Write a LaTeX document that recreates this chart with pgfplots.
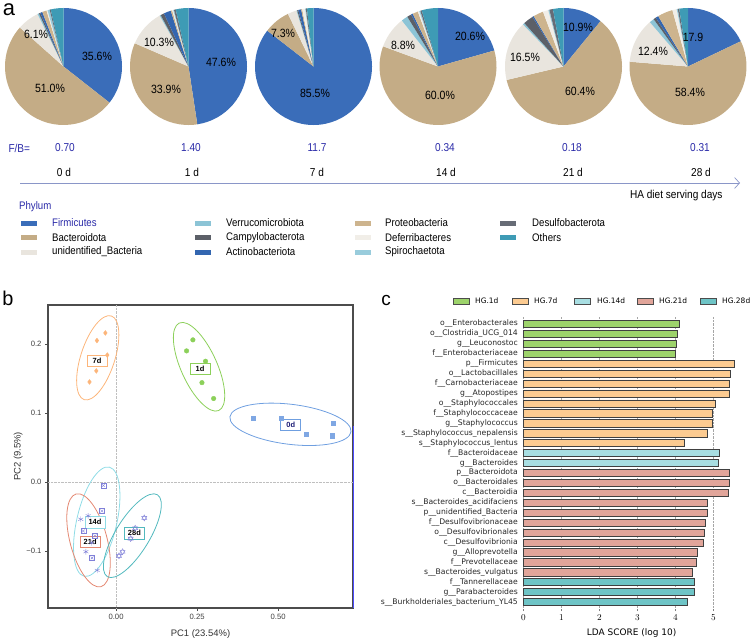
\documentclass[border=0pt]{standalone}
\usepackage{pgfplots}
\pgfplotsset{compat=1.18}
\usepackage{fontspec}
\setmainfont{Liberation Sans}
\newfontfamily\nar[FakeStretch=0.88]{Liberation Sans}
\newfontfamily\dejavu{DejaVu Sans}
\usetikzlibrary{arrows.meta}
\newcommand\fs[1]{\fontsize{#1}{#1}\selectfont}

% phylum colours
\definecolor{cFir}{HTML}{3A6DB9}
\definecolor{cBac}{HTML}{C4AC86}
\definecolor{cUnid}{HTML}{E9E5DE}
\definecolor{cVer}{HTML}{8CC4D6}
\definecolor{cCam}{HTML}{5C6068}
\definecolor{cAct}{HTML}{3366B0}
\definecolor{cPro}{HTML}{CDB48E}
\definecolor{cDef}{HTML}{F1EEE8}
\definecolor{cSpi}{HTML}{99CCDC}
\definecolor{cDes}{HTML}{676C76}
\definecolor{cOth}{HTML}{3E9BB5}
\definecolor{fbblue}{HTML}{2A2AA8}
\definecolor{arrowc}{HTML}{8A96C8}
% panel b colours
\definecolor{p0}{HTML}{7FA7E3}
\definecolor{e0}{HTML}{6F9FE0}
\definecolor{p1}{HTML}{8CD05A}
\definecolor{p7}{HTML}{FCB57A}
\definecolor{e14}{HTML}{8FDCE6}
\definecolor{e21}{HTML}{E48872}
\definecolor{e28}{HTML}{52B9BE}
\definecolor{pm}{HTML}{8080D8}
% panel c colours
\definecolor{g1}{HTML}{9DD36B}
\definecolor{g7}{HTML}{FCCB91}
\definecolor{g14}{HTML}{A8DEE2}
\definecolor{g21}{HTML}{E1A59A}
\definecolor{g28}{HTML}{6EC4C6}

\newcommand\drawpie[1]{%
  \gdef\angstart{90}%
  \foreach \pv/\pc in {#1}{%
    \pgfmathsetmacro\angend{\angstart-3.6*\pv}%
    \fill[fill=\pc] (axis cs:0,0) -- ++(\angstart:58.5bp) arc[start angle=\angstart,end angle=\angend,radius=58.5bp] -- cycle;%
    \global\let\angstart\angend
  }%
}
\newcommand\pieaxis[2]{%
  \begin{axis}[at={(#1bp,-66.5bp)},anchor=center,hide axis,scale only axis,
    width=117bp,height=117bp,xmin=-1,xmax=1,ymin=-1,ymax=1,clip=false]
    \addplot[draw=none,forget plot] coordinates {(0,0)};
    \pgfplotsextra{\drawpie{#2}}
  \end{axis}}

\begin{document}
\begin{tikzpicture}[x=1bp,y=-1bp]
\useasboundingbox (0,0) rectangle (752,641);

% ---------------- panel a ----------------
\node[font=\fs{22}] at (9,10) {a};
% order: Firmicutes, Bacteroidota, unidentified_Bacteria, Verrucomicrobiota, Campylobacterota,
% Actinobacteriota, Proteobacteria, Deferribacteres, Spirochaetota, Desulfobacterota, Others
\pieaxis{63.5}{35.6/cFir,51.0/cBac,6.1/cUnid,0.4/cVer,0.4/cCam,0.6/cAct,1.2/cPro,0.3/cDef,0.6/cSpi,0.3/cDes,3.5/cOth}
\pieaxis{188.5}{47.6/cFir,33.9/cBac,10.3/cUnid,0.3/cVer,1.0/cCam,2.0/cAct,0.4/cPro,0.3/cDef,0.2/cSpi,0.5/cDes,3.5/cOth}
\pieaxis{313.5}{85.5/cFir,7.3/cBac,2.5/cUnid,0.2/cVer,0.3/cCam,0.8/cAct,0.3/cPro,0.8/cDef,0.2/cSpi,0.3/cDes,1.8/cOth}
\pieaxis{438}{20.6/cFir,60.0/cBac,8.8/cUnid,1.8/cVer,1.2/cCam,0.5/cAct,1.5/cPro,0.4/cDef,0.3/cSpi,0.4/cDes,4.5/cOth}
\pieaxis{563.5}{10.9/cFir,60.4/cBac,16.5/cUnid,0.5/cVer,2.8/cCam,0.4/cAct,2.8/cPro,1.5/cDef,0.3/cSpi,1.0/cDes,2.9/cOth}
\pieaxis{688}{17.9/cFir,58.4/cBac,12.4/cUnid,1.3/cVer,0.7/cCam,0.8/cAct,4.2/cPro,1.2/cDef,0.3/cSpi,0.4/cDes,2.4/cOth}

\begin{scope}[every node/.style={font=\nar\fs{12}}]
\node at (97,56) {35.6\%};
\node at (50,88) {51.0\%};
\node at (36,34) {6.1\%};
\node at (221,62) {47.6\%};
\node at (166,89) {33.9\%};
\node at (159,42) {10.3\%};
\node at (315,93) {85.5\%};
\node at (283,33) {7.3\%};
\node at (470,36) {20.6\%};
\node at (440,95) {60.0\%};
\node at (403,45) {8.8\%};
\node at (578,27) {10.9\%};
\node at (580,91) {60.4\%};
\node at (525,57) {16.5\%};
\node at (693,37) {17.9};
\node at (690,92) {58.4\%};
\node at (653,51) {12.4\%};
\end{scope}

\begin{scope}[every node/.style={font=\nar\fs{11.5}}]
\node[fbblue,anchor=west] at (5,148) {F/B=};
\node[fbblue] at (65,148) {0.70};
\node[fbblue] at (191,148) {1.40};
\node[fbblue] at (317,148) {11.7};
\node[fbblue] at (445,148) {0.34};
\node[fbblue] at (572,148) {0.18};
\node[fbblue] at (700,148) {0.31};
\node at (64,172) {0 d};
\node at (192,172) {1 d};
\node at (317,172) {7 d};
\node at (446,172) {14 d};
\node at (573,172) {21 d};
\node at (701,172) {28 d};
\node[anchor=east] at (726,196) {HA diet serving days};
\end{scope}
\draw[arrowc,line width=0.7pt,-{Straight Barb[length=5bp,width=11bp]}] (20,183) -- (740,183);

% legend
\begin{scope}[every node/.style={font=\nar\fs{11},anchor=west,inner sep=0pt}]
\node[fbblue] at (19,207) {Phylum};
\fill[cFir] (21,220.5) rectangle (37,225.5); \node[fbblue] at (52,223) {Firmicutes};
\fill[cBac] (21,235) rectangle (37,240); \node at (52,237.5) {Bacteroidota};
\fill[cUnid] (21,249.5) rectangle (37,254.5); \node at (52,252) {unidentified\_Bacteria};
\fill[cVer] (195,220.5) rectangle (211,225.5); \node at (226,223) {Verrucomicrobiota};
\fill[cCam] (195,235) rectangle (211,240); \node at (226,237.5) {Campylobacterota};
\fill[cAct] (195,249.5) rectangle (211,254.5); \node at (226,252) {Actinobacteriota};
\fill[cPro] (355,220.5) rectangle (371,225.5); \node at (385,223) {Proteobacteria};
\fill[cDef] (355,235) rectangle (371,240); \node at (385,237.5) {Deferribacteres};
\fill[cSpi] (355,249.5) rectangle (371,254.5); \node at (385,252) {Spirochaetota};
\fill[cDes] (500,220.5) rectangle (516,225.5); \node at (532,223) {Desulfobacterota};
\fill[cOth] (500,235) rectangle (516,240); \node at (532,237.5) {Others};
\end{scope}

% ---------------- panel b ----------------
\node[font=\fs{20}] at (8,298) {b};
\begin{axis}[at={(48bp,-608bp)},anchor=south west,scale only axis,width=305bp,height=303bp,
  xmin=-0.21,xmax=0.731,ymin=-0.1826,ymax=0.2565,
  xtick={0,0.25,0.5},xticklabels={0.00,0.25,0.50},
  ytick={-0.1,0,0.1,0.2},yticklabels={−0.1,0.0,0.1,0.2},
  tick label style={font=\fs{7.7},color=black!75},
  tick style={color=black!70},
  tick align=outside,major tick length=3bp,
  xtick pos=left,ytick pos=left,
  axis line style={draw=black!70,line width=1.2pt},
  xlabel={PC1 (23.54\%)},ylabel={PC2 (9.5\%)},
  label style={font=\fs{9.5},color=black!80},
  xlabel style={yshift=-3bp},ylabel style={yshift=-3bp},
  clip=false]
  \draw[black!25,densely dotted] (axis cs:0,-0.1826) -- (axis cs:0,0.2565);
  \draw[black!25,densely dotted] (axis cs:-0.21,0) -- (axis cs:0.731,0);
  \draw[blue!70,line width=0.6pt] (rel axis cs:1,0) -- (rel axis cs:1,0.6);
  % 0d
  \addplot[only marks,mark=square*,mark size=2.1bp,color=p0] coordinates {(0.422,0.092) (0.510,0.093) (0.587,0.069) (0.669,0.085) (0.667,0.067)};
  % 1d
  \addplot[only marks,mark=*,mark size=2.3bp,color=p1] coordinates {(0.237,0.206) (0.2175,0.190) (0.276,0.175) (0.265,0.144) (0.301,0.121)};
  % 7d
  \addplot[only marks,mark=diamond*,mark size=2.4bp,color=p7] coordinates {(-0.033,0.216) (-0.059,0.205) (-0.027,0.184) (-0.061,0.161) (-0.082,0.145)};
  % 14d
  \addplot[only marks,mark=square,mark size=2.6bp,color=pm] coordinates {(-0.039,-0.005) (-0.044,-0.042) (-0.101,-0.071) (-0.065,-0.078) (-0.074,-0.110)};
  \addplot[only marks,mark=x,mark size=2.0bp,color=pm] coordinates {(-0.039,-0.005) (-0.044,-0.042) (-0.101,-0.071) (-0.065,-0.078) (-0.074,-0.110)};
  % 21d
  \addplot[only marks,mark=asterisk,mark size=2.8bp,color=pm] coordinates {(-0.109,-0.054) (-0.086,-0.049) (-0.093,-0.101) (-0.058,-0.128) (-0.075,-0.088)};
  % 28d
  \addplot[only marks,mark=triangle,mark size=3bp,color=pm] coordinates {(0.087,-0.052) (0.059,-0.067) (0.020,-0.101) (0.009,-0.107) (0.045,-0.082)};
  \addplot[only marks,mark=triangle,mark size=3bp,color=pm,mark options={rotate=180}] coordinates {(0.087,-0.052) (0.059,-0.067) (0.020,-0.101) (0.009,-0.107) (0.045,-0.082)};
  % ellipses
  \draw[e0,line width=0.8pt,rotate around={-7:(axis cs:0.538,0.0836)}] (axis cs:0.538,0.0836) ellipse[x radius=61bp,y radius=20bp];
  \draw[p1,line width=0.8pt,rotate around={-65.7:(axis cs:0.256,0.167)}] (axis cs:0.256,0.167) ellipse[x radius=48bp,y radius=18bp];
  \draw[p7,line width=0.8pt,rotate around={72:(axis cs:-0.0565,0.180)}] (axis cs:-0.0565,0.180) ellipse[x radius=44bp,y radius=17bp];
  \draw[e14,line width=0.8pt,rotate around={77:(axis cs:-0.0596,-0.0575)}] (axis cs:-0.0596,-0.0575) ellipse[x radius=56bp,y radius=20bp];
  \draw[e21,line width=0.8pt,rotate around={-75:(axis cs:-0.0849,-0.0845)}] (axis cs:-0.0849,-0.0845) ellipse[x radius=48bp,y radius=18.5bp];
  \draw[e28,line width=0.8pt,rotate around={58.5:(axis cs:0.0503,-0.0778)}] (axis cs:0.0503,-0.0778) ellipse[x radius=48bp,y radius=17bp];
  % labels
  \begin{scope}[every node/.style={fill=white,font=\bfseries\fs{7.5},minimum width=20bp,minimum height=11.5bp,inner sep=1bp,line width=0.6pt}]
  \node[draw=p7] at (axis cs:-0.0586,0.176) {7d};
  \node[draw=p1] at (axis cs:0.259,0.164) {1d};
  \node[draw=e0,text=fbblue!70!black] at (axis cs:0.539,0.0826) {0d};
  \node[draw=e14] at (axis cs:-0.065,-0.0584) {14d};
  \node[draw=e21] at (axis cs:-0.080,-0.0865) {21d};
  \node[draw=e28] at (axis cs:0.0565,-0.0743) {28d};
  \end{scope}
\end{axis}

% ---------------- panel c ----------------
\node[font=\fs{19}] at (386,300) {c};
\begin{scope}[every node/.style={font=\dejavu\fs{7.5},anchor=west,inner sep=0pt}]
\filldraw[fill=g1,draw=black!70] (453,298) rectangle (469,304); \node at (475,301) {HG.1d};
\filldraw[fill=g7,draw=black!70] (512,298) rectangle (528,304); \node at (534,301) {HG.7d};
\filldraw[fill=g14,draw=black!70] (574,298) rectangle (590,304); \node at (597,301) {HG.14d};
\filldraw[fill=g21,draw=black!70] (637,298) rectangle (653,304); \node at (659,301) {HG.21d};
\filldraw[fill=g28,draw=black!70] (700,298) rectangle (716,304); \node at (722,301) {HG.28d};
\end{scope}
\begin{axis}[at={(523.3bp,-317bp)},anchor=north west,scale only axis,width=216.6bp,height=292bp,
  xbar,bar width=7.2bp,bar shift=0pt,
  xmin=0,xmax=5.7,ymin=-0.7,ymax=28.7,
  xtick={0,1,2,3,4,5},ytick={0,...,28},
  yticklabels={s\_\_Burkholderiales\_bacterium\_YL45,g\_\_Parabacteroides,f\_\_Tannerellaceae,s\_\_Bacteroides\_vulgatus,f\_\_Prevotellaceae,g\_\_Alloprevotella,c\_\_Desulfovibrionia,o\_\_Desulfovibrionales,f\_\_Desulfovibrionaceae,p\_\_unidentified\_Bacteria,s\_\_Bacteroides\_acidifaciens,c\_\_Bacteroidia,o\_\_Bacteroidales,p\_\_Bacteroidota,g\_\_Bacteroides,f\_\_Bacteroidaceae,s\_\_Staphylococcus\_lentus,s\_\_Staphylococcus\_nepalensis,g\_\_Staphylococcus,f\_\_Staphylococcaceae,o\_\_Staphylococcales,g\_\_Atopostipes,f\_\_Carnobacteriaceae,o\_\_Lactobacillales,p\_\_Firmicutes,f\_\_Enterobacteriaceae,g\_\_Leuconostoc,o\_\_Clostridia\_UCG\_014,o\_\_Enterobacterales},
  xmajorgrids,grid style={densely dotted,black!35},
  axis line style={draw=none},
  xtick pos=left,ytick pos=left,
  ytick style={draw=none},xtick style={black!50},
  tick align=outside,major tick length=2bp,
  yticklabel style={font=\dejavu\fs{7.7},color=black!85},
  xticklabel style={font=\dejavu\fs{9}},
  xlabel={LDA SCORE (log 10)},xlabel style={font=\dejavu\fs{9},yshift=-2bp},
  clip=false]
  \addplot[fill=g1,draw=black!75,line width=0.6pt] coordinates {(4.10,28) (4.04,27) (4.02,26) (4.00,25)};
  \addplot[fill=g7,draw=black!75,line width=0.6pt] coordinates {(5.55,24) (5.45,23) (5.41,22) (5.41,21) (5.04,20) (4.98,19) (4.97,18) (4.84,17) (4.23,16)};
  \addplot[fill=g14,draw=black!75,line width=0.6pt] coordinates {(5.16,15) (5.13,14)};
  \addplot[fill=g21,draw=black!75,line width=0.6pt] coordinates {(5.41,13) (5.41,12) (5.40,11) (4.84,10) (4.84,9) (4.79,8) (4.76,7) (4.74,6) (4.58,5) (4.55,4) (4.45,3)};
  \addplot[fill=g28,draw=black!75,line width=0.6pt] coordinates {(4.50,2) (4.49,1) (4.32,0)};
\end{axis}
\end{tikzpicture}
\end{document}
